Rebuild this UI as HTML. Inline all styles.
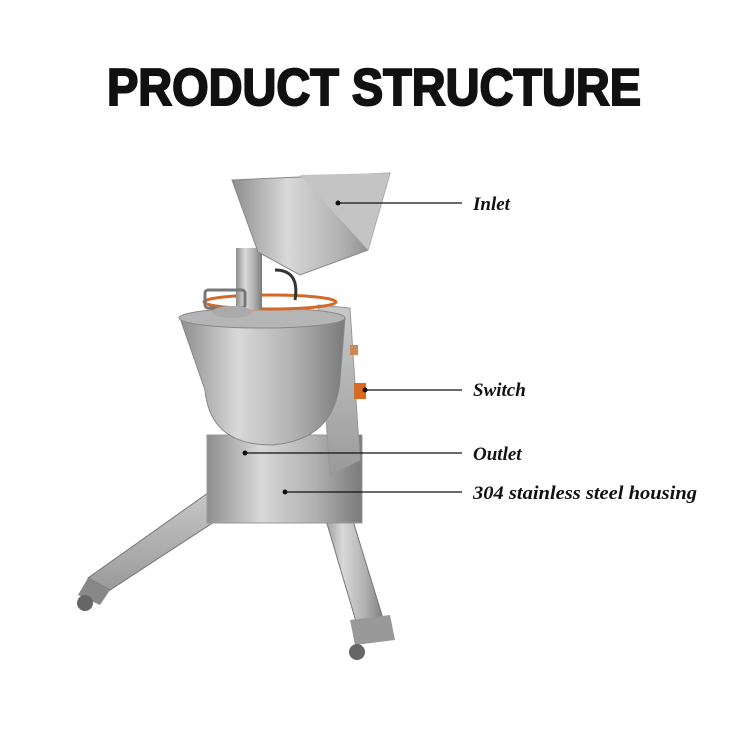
<!DOCTYPE html>
<html><head><meta charset="utf-8"><style>
html,body{margin:0;padding:0;background:#fff;}
svg{display:block;}
</style></head><body>
<svg width="750" height="750" viewBox="0 0 750 750" xmlns="http://www.w3.org/2000/svg">
<defs>
<linearGradient id="steel" x1="0" x2="1" y1="0" y2="0">
<stop offset="0" stop-color="#8e8e8e"/><stop offset="0.35" stop-color="#d8d8d8"/><stop offset="0.7" stop-color="#b0b0b0"/><stop offset="1" stop-color="#7a7a7a"/>
</linearGradient>
<linearGradient id="steel2" x1="0" x2="0" y1="0" y2="1">
<stop offset="0" stop-color="#c9c9c9"/><stop offset="1" stop-color="#9a9a9a"/>
</linearGradient>
</defs>
<rect width="750" height="750" fill="#fff"/>
<text x="374" y="105" text-anchor="middle" font-family="Liberation Sans, sans-serif" font-weight="900" font-size="52" textLength="534" lengthAdjust="spacingAndGlyphs" fill="#111" stroke="#111" stroke-width="2">PRODUCT STRUCTURE</text>

<!-- legs -->
<polygon points="215,488 240,505 110,590 88,578" fill="url(#steel2)" stroke="#777"/>
<polygon points="88,578 110,590 100,605 78,595" fill="#888"/>
<polygon points="320,500 345,495 385,625 360,635" fill="url(#steel)" stroke="#777"/>
<polygon points="350,620 390,615 395,640 355,645" fill="#999"/>
<circle cx="85" cy="603" r="8" fill="#666"/><circle cx="357" cy="652" r="8" fill="#666"/>
<!-- base box -->
<rect x="207" y="435" width="155" height="88" fill="url(#steel)" stroke="#999"/>
<!-- right panel -->
<polygon points="318,305 350,308 360,460 330,475" fill="url(#steel2)" stroke="#999"/>
<rect x="350" y="345" width="8" height="10" fill="#c85"/>
<rect x="354" y="383" width="12" height="16" fill="#d86a20"/>
<!-- bowl -->
<path d="M180,318 L345,318 L340,380 Q335,440 272,445 Q210,445 205,390 Z" fill="url(#steel)" stroke="#888"/>
<ellipse cx="262" cy="318" rx="83" ry="10" fill="#b5b5b5" stroke="#888"/>
<!-- orange ring -->
<ellipse cx="270" cy="302" rx="66" ry="7" fill="none" stroke="#d2692a" stroke-width="3"/>
<!-- neck -->
<rect x="236" y="248" width="26" height="62" fill="url(#steel)"/>
<rect x="205" y="290" width="40" height="18" rx="3" fill="none" stroke="#777" stroke-width="3"/>
<ellipse cx="232" cy="312" rx="20" ry="6" fill="#aaa"/>
<path d="M275,270 Q300,270 295,300" stroke="#333" stroke-width="3" fill="none"/>
<!-- hopper -->
<polygon points="232,180 390,173 368,250 300,275 258,252" fill="url(#steel)" stroke="#888"/>
<polygon points="300,175 390,173 368,250" fill="#c4c4c4"/>

<!-- callouts -->
<g stroke="#111" stroke-width="1.2">
<line x1="338" y1="203" x2="462" y2="203"/>
<line x1="365" y1="390" x2="462" y2="390"/>
<line x1="245" y1="453" x2="462" y2="453"/>
<line x1="285" y1="492" x2="462" y2="492"/>
</g>
<g fill="#111"><circle cx="338" cy="203" r="2.5"/><circle cx="365" cy="390" r="2.5"/><circle cx="245" cy="453" r="2.5"/><circle cx="285" cy="492" r="2.5"/></g>
<g font-family="Liberation Serif, serif" font-style="italic" font-weight="bold" font-size="19" fill="#111">
<text x="473" y="210">Inlet</text>
<text x="473" y="396">Switch</text>
<text x="473" y="460">Outlet</text>
<text x="473" y="499" textLength="224" lengthAdjust="spacingAndGlyphs">304 stainless steel housing</text>
</g>
</svg>
</body></html>
